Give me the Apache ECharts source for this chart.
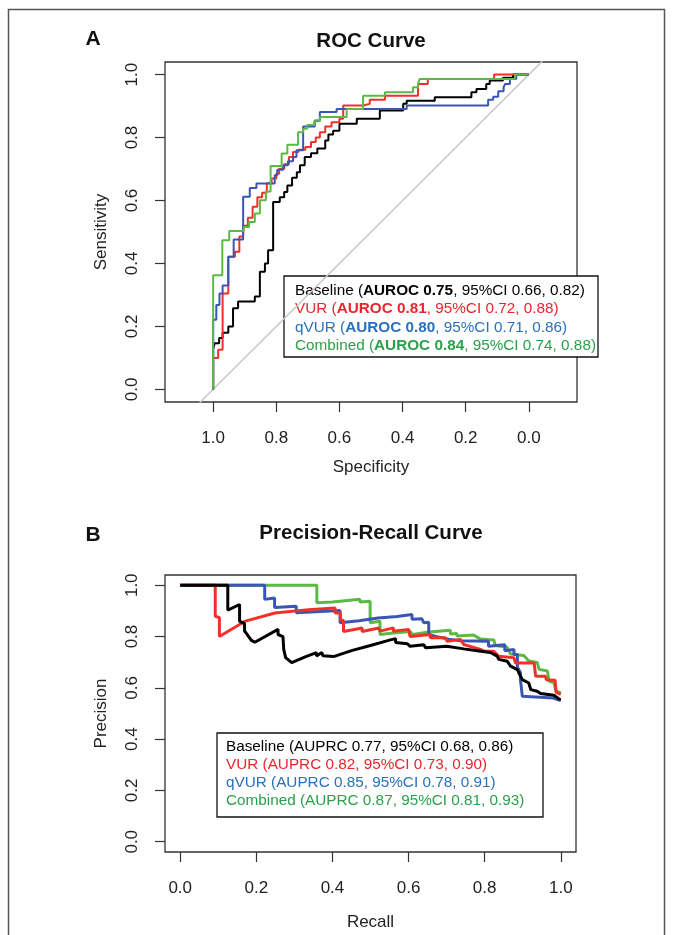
<!DOCTYPE html>
<html>
<head>
<meta charset="utf-8">
<script src="https://cdn.jsdelivr.net/npm/echarts@6/dist/echarts.min.js"></script>
<style>html,body{margin:0;padding:0;background:#fff}#c{width:673px;height:935px}</style>
</head>
<body>
<div id="c"></div>
<script>
// ---------- data ----------
const models = ['Baseline', 'VUR', 'qVUR', 'Combined'];
const lineColors = ['#000000', '#ef3128', '#3b55b5', '#5cb946'];
const textColors = ['#000000', '#e8262b', '#2a70bd', '#2ba04a'];
const tickValues = [0, 0.2, 0.4, 0.6, 0.8, 1.0];

const auroc = [0.75, 0.81, 0.80, 0.84];
const aurocLo = [0.66, 0.72, 0.71, 0.74];
const aurocHi = [0.82, 0.88, 0.86, 0.88];
const auprc = [0.77, 0.82, 0.85, 0.87];
const auprcLo = [0.68, 0.73, 0.78, 0.81];
const auprcHi = [0.86, 0.90, 0.91, 0.93];

// ROC staircases: specificity where each vertical step occurs, and sensitivity reached
const baselineSpec = [1.0, 0.995, 0.981, 0.97, 0.952, 0.937, 0.921, 0.868, 0.852, 0.836, 0.826, 0.81, 0.789, 0.775, 0.765, 0.75, 0.735, 0.725, 0.71, 0.69, 0.67, 0.645, 0.635, 0.62, 0.60, 0.545, 0.472, 0.398, 0.387, 0.298, 0.182, 0.166, 0.135, 0.124, 0.082, 0.05, 0.0];
const baselineSens = [0.128, 0.147, 0.163, 0.18, 0.20, 0.258, 0.279, 0.295, 0.374, 0.40, 0.442, 0.595, 0.61, 0.627, 0.648, 0.672, 0.69, 0.712, 0.738, 0.75, 0.765, 0.791, 0.81, 0.822, 0.844, 0.86, 0.886, 0.907, 0.917, 0.928, 0.944, 0.954, 0.97, 0.981, 0.99, 1.0, 1.0];
const vurSpec = [1.0, 0.984, 0.970, 0.952, 0.931, 0.917, 0.905, 0.890, 0.875, 0.860, 0.845, 0.830, 0.815, 0.800, 0.791, 0.775, 0.760, 0.747, 0.730, 0.708, 0.690, 0.675, 0.662, 0.645, 0.625, 0.600, 0.588, 0.525, 0.504, 0.456, 0.351, 0.320, 0.110, 0.0];
const vurSens = [0.0995, 0.126, 0.305, 0.421, 0.437, 0.486, 0.52, 0.545, 0.58, 0.61, 0.625, 0.655, 0.67, 0.685, 0.701, 0.715, 0.738, 0.754, 0.761, 0.77, 0.786, 0.80, 0.817, 0.835, 0.849, 0.86, 0.902, 0.907, 0.92, 0.933, 0.97, 0.986, 1.0, 1.0];
const qvurSpec = [1.0, 0.99, 0.98, 0.97, 0.952, 0.935, 0.905, 0.884, 0.863, 0.805, 0.797, 0.778, 0.763, 0.747, 0.736, 0.715, 0.678, 0.662, 0.609, 0.387, 0.129, 0.113, 0.097, 0.08, 0.075, 0.06, 0.04, 0.0];
const qvurSens = [0.221, 0.268, 0.305, 0.33, 0.421, 0.476, 0.612, 0.64, 0.654, 0.68, 0.698, 0.712, 0.725, 0.738, 0.76, 0.835, 0.854, 0.881, 0.891, 0.902, 0.92, 0.93, 0.947, 0.96, 0.97, 0.986, 1.0, 1.0];
const combSpec = [1.0, 0.971, 0.949, 0.903, 0.886, 0.868, 0.852, 0.833, 0.818, 0.783, 0.765, 0.731, 0.715, 0.702, 0.680, 0.662, 0.577, 0.525, 0.456, 0.367, 0.351, 0.346, 0.044, 0.0];
const combSens = [0.363, 0.474, 0.503, 0.516, 0.532, 0.559, 0.601, 0.629, 0.71, 0.749, 0.777, 0.817, 0.828, 0.84, 0.852, 0.865, 0.891, 0.933, 0.944, 0.96, 0.97, 0.986, 1.0, 1.0];

// chance diagonal (extends past the plot box, clipped)
const chanceSpec = [1.2, -0.2];
const chanceSens = [-0.2, 1.2];

// Precision-recall curves
const baselineRec = [0, 0.125, 0.125, 0.156, 0.156, 0.169, 0.169, 0.187, 0.196, 0.257, 0.257, 0.27, 0.272, 0.277, 0.293, 0.33, 0.358, 0.358, 0.372, 0.375, 0.403, 0.45, 0.5, 0.55, 0.566, 0.566, 0.597, 0.604, 0.64, 0.645, 0.70, 0.745, 0.78, 0.815, 0.833, 0.837, 0.859, 0.868, 0.886, 0.89, 0.899, 0.916, 0.921, 0.938, 0.947, 0.982, 0.996, 1.0];
const baselinePrec = [1, 1, 0.903, 0.925, 0.86, 0.85, 0.822, 0.785, 0.778, 0.828, 0.808, 0.80, 0.75, 0.718, 0.698, 0.722, 0.737, 0.724, 0.738, 0.725, 0.722, 0.745, 0.765, 0.786, 0.792, 0.777, 0.772, 0.762, 0.768, 0.756, 0.762, 0.752, 0.745, 0.738, 0.724, 0.711, 0.704, 0.685, 0.671, 0.658, 0.632, 0.619, 0.593, 0.587, 0.578, 0.571, 0.556, 0.555];
const vurRec = [0, 0.092, 0.092, 0.103, 0.103, 0.108, 0.169, 0.249, 0.337, 0.407, 0.407, 0.421, 0.421, 0.429, 0.429, 0.478, 0.478, 0.522, 0.525, 0.56, 0.56, 0.60, 0.604, 0.657, 0.657, 0.697, 0.701, 0.736, 0.745, 0.789, 0.798, 0.824, 0.837, 0.877, 0.881, 0.93, 0.934, 0.96, 0.962, 0.985, 0.988, 1.0];
const vurPrec = [1, 1, 0.879, 0.874, 0.80, 0.806, 0.859, 0.892, 0.905, 0.911, 0.892, 0.892, 0.866, 0.862, 0.82, 0.833, 0.82, 0.833, 0.821, 0.834, 0.821, 0.828, 0.80, 0.808, 0.795, 0.795, 0.782, 0.789, 0.769, 0.75, 0.743, 0.743, 0.723, 0.717, 0.697, 0.697, 0.645, 0.645, 0.632, 0.63, 0.582, 0.575];
const qvurRec = [0, 0.222, 0.222, 0.248, 0.248, 0.305, 0.305, 0.42, 0.42, 0.47, 0.52, 0.57, 0.609, 0.609, 0.635, 0.64, 0.653, 0.653, 0.672, 0.705, 0.736, 0.81, 0.81, 0.853, 0.853, 0.877, 0.877, 0.886, 0.886, 0.894, 0.894, 0.899, 0.899, 0.98, 0.99, 1.0];
const qvurPrec = [1, 1, 0.945, 0.95, 0.913, 0.918, 0.893, 0.902, 0.854, 0.862, 0.872, 0.878, 0.886, 0.867, 0.869, 0.854, 0.856, 0.808, 0.80, 0.79, 0.784, 0.782, 0.762, 0.768, 0.745, 0.75, 0.73, 0.73, 0.68, 0.66, 0.632, 0.63, 0.567, 0.56, 0.555, 0.55];
const combRec = [0, 0.359, 0.359, 0.40, 0.472, 0.472, 0.499, 0.499, 0.525, 0.525, 0.56, 0.604, 0.61, 0.654, 0.71, 0.71, 0.727, 0.727, 0.771, 0.789, 0.824, 0.828, 0.859, 0.868, 0.903, 0.916, 0.938, 0.943, 0.965, 0.969, 0.982, 0.987, 1.0];
const combPrec = [1, 1, 0.932, 0.935, 0.945, 0.935, 0.938, 0.854, 0.86, 0.808, 0.814, 0.82, 0.808, 0.818, 0.825, 0.81, 0.812, 0.802, 0.806, 0.79, 0.787, 0.765, 0.758, 0.732, 0.726, 0.705, 0.699, 0.672, 0.666, 0.626, 0.62, 0.588, 0.58];

// ---------- build ----------
const FONT = '"Liberation Sans", Arial, Helvetica, sans-serif';
const rocSpec = [baselineSpec, vurSpec, qvurSpec, combSpec];
const rocSens = [baselineSens, vurSens, qvurSens, combSens];
const prRec = [baselineRec, vurRec, qvurRec, combRec];
const prPrec = [baselinePrec, vurPrec, qvurPrec, combPrec];

function staircase(spec, sens) {
  const pts = [[spec[0], 0]];
  for (let i = 0; i < spec.length; i++) {
    if (i > 0) pts.push([spec[i], sens[i - 1]]);
    pts.push([spec[i], sens[i]]);
  }
  return pts;
}
function zip(a, b) { return a.map((v, i) => [v, b[i]]); }

const fmt1 = v => v.toFixed(1);
function xAxisCfg(grid, name, min, max, inverse, gap) {
  return {
    type: 'value', gridIndex: grid, min: min, max: max, inverse: inverse, position: 'bottom',
    axisLine: { show: false, onZero: false }, splitLine: { show: false },
    axisTick: { show: true, length: 10, customValues: tickValues, lineStyle: { color: '#333', width: 1.2 } },
    axisLabel: { customValues: tickValues, formatter: fmt1, fontSize: 17, color: '#222', fontFamily: FONT, margin: 28 },
    name: name, nameLocation: 'middle', nameGap: gap,
    nameTextStyle: { fontSize: 17, color: '#222', fontFamily: FONT }
  };
}
function yAxisCfg(grid, name) {
  return {
    type: 'value', gridIndex: grid, min: -0.04, max: 1.04, position: 'left',
    axisLine: { show: false, onZero: false }, splitLine: { show: false },
    axisTick: { show: true, length: 10, customValues: tickValues, lineStyle: { color: '#333', width: 1.2 } },
    axisLabel: { customValues: tickValues, formatter: fmt1, fontSize: 17, color: '#222', fontFamily: FONT, rotate: 90, margin: 24 },
    name: name, nameLocation: 'middle', nameGap: 55,
    nameTextStyle: { fontSize: 17, color: '#222', fontFamily: FONT }
  };
}

const series = [];
series.push({
  type: 'line', xAxisIndex: 0, yAxisIndex: 0, data: zip(chanceSpec, chanceSens),
  showSymbol: false, symbol: 'none', clip: true, silent: true,
  lineStyle: { color: '#c8c8c8', width: 1.5 }, z: 1
});
for (let m = 0; m < 4; m++) {
  series.push({
    name: models[m], type: 'line', xAxisIndex: 0, yAxisIndex: 0,
    data: staircase(rocSpec[m], rocSens[m]), showSymbol: false, symbol: 'none', clip: true,
    lineStyle: { color: lineColors[m], width: 2 }, z: 2 + m
  });
}
// PR: drawn with Combined at the bottom and Baseline on top
for (let m = 3; m >= 0; m--) {
  series.push({
    name: models[m] + ' PR', type: 'line', xAxisIndex: 1, yAxisIndex: 1,
    data: zip(prRec[m], prPrec[m]), showSymbol: false, symbol: 'none', clip: true,
    lineStyle: { color: lineColors[m], width: 3 }, z: 2 + (3 - m)
  });
}

function legendGroup(x, y, w, h, tx, ty0, dy, metric, vals, lo, hi, boldMetric) {
  const children = [{
    type: 'rect', shape: { x: x, y: y, width: w, height: h },
    style: { fill: '#fff', stroke: '#111', lineWidth: 1.3 }
  }];
  for (let i = 0; i < 4; i++) {
    const rich = {};
    rich['n'] = { fill: textColors[i], fontSize: 15.3, fontFamily: FONT };
    rich['b'] = { fill: textColors[i], fontSize: 15.3, fontFamily: FONT, fontWeight: boldMetric ? 'bold' : 'normal' };
    const txt = '{n|' + models[i] + ' (}{b|' + metric + ' ' + vals[i].toFixed(2) + '}{n|, 95%CI ' +
      lo[i].toFixed(2) + ', ' + hi[i].toFixed(2) + ')}';
    children.push({
      type: 'text', x: tx, y: ty0 + i * dy,
      style: { text: txt, rich: rich, fill: textColors[i], font: '15.3px ' + FONT,
        align: 'left', verticalAlign: 'middle', textAlign: 'left', textVerticalAlign: 'middle' }
    });
  }
  return { type: 'group', z: 100, children: children };
}

function label(x, y, text, size) {
  return {
    type: 'text', x: x, y: y, z: 100,
    style: { text: text, font: 'bold ' + size + 'px ' + FONT, fill: '#111',
      align: 'center', verticalAlign: 'middle', textAlign: 'center', textVerticalAlign: 'middle' }
  };
}

const option = {
  animation: false,
  backgroundColor: '#ffffff',
  grid: [
    { left: 165, top: 62, width: 412, height: 340, show: true, borderColor: '#333', borderWidth: 1.3, backgroundColor: 'transparent', containLabel: false },
    { left: 165, top: 575, width: 411, height: 277, show: true, borderColor: '#333', borderWidth: 1.3, backgroundColor: 'transparent', containLabel: false }
  ],
  xAxis: [
    xAxisCfg(0, 'Specificity', -0.1525, 1.1525, true, 57),
    xAxisCfg(1, 'Recall', -0.04, 1.04, false, 62)
  ],
  yAxis: [yAxisCfg(0, 'Sensitivity'), yAxisCfg(1, 'Precision')],
  series: series,
  graphic: [
    { type: 'rect', z: 0, shape: { x: 8.5, y: 9.5, width: 656, height: 940 }, style: { fill: 'none', stroke: '#555', lineWidth: 1.5 } },
    label(93, 39, 'A', 21),
    label(371, 41, 'ROC Curve', 20.5),
    label(93, 535, 'B', 21),
    label(371, 533, 'Precision-Recall Curve', 20.5),
    legendGroup(284, 276, 314, 81, 295, 290.7, 18.33, 'AUROC', auroc, aurocLo, aurocHi, true),
    legendGroup(217, 733, 326, 84, 226, 747, 18, 'AUPRC', auprc, auprcLo, auprcHi, false)
  ]
};

const chart = echarts.init(document.getElementById('c'), null, { renderer: 'canvas' });
chart.setOption(option);
</script>
</body>
</html>
